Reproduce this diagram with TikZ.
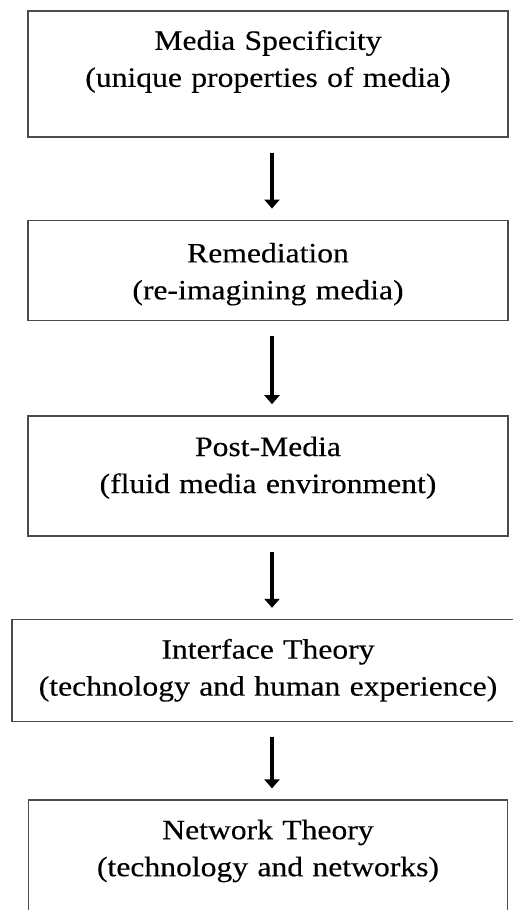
\documentclass[tikz,border=0pt]{standalone}
\usepackage{fontspec}
\setmainfont{Liberation Serif}[FakeStretch=1.13,FakeBold=0.3]
\usepackage{tikz}
\usetikzlibrary{arrows.meta,positioning,calc}
\tikzstyle{stage}=[draw=black!70,line width=1.6pt,rectangle,inner sep=0pt,align=center,text width=480pt,font=\fontsize{28}{37}\selectfont]
\tikzstyle{flow}=[line width=4.5pt,-{Triangle[width=15pt,length=9pt]},shorten <=15pt,shorten >=11pt]

\begin{document}
\begin{tikzpicture}[x=1pt,y=-1pt,node distance=82pt]
    \clip (0,0) rectangle (513,910);
    \node [stage,anchor=north,text height=39pt,text depth=87pt] (spec) at (268,10)
      {Media Specificity\\(unique properties of media)};
    \node [stage,below=of spec,text height=42pt,text depth=58pt] (remed)
      {Remediation\\(re-imagining media)};
    \node [stage,below=94pt of remed,text height=40pt,text depth=80pt] (post)
      {Post-Media\\(fluid media environment)};
    \node [stage,below=of post,text width=512pt,text height=39pt,text depth=63pt] (iface)
      {Interface Theory\\(technology and human experience)};
    \node [stage,below=77pt of iface,text width=479pt,text height=39pt,text depth=101pt] (net)
      {Network Theory\\(technology and networks)};
    % arrows between the stages
    \draw [flow] ([xshift=4pt]spec.south) -- ([xshift=4pt]remed.north);
    \draw [flow] ([xshift=4pt]remed.south) -- ([xshift=4pt]post.north);
    \draw [flow] ([xshift=4pt]post.south) -- ([xshift=4pt]iface.north);
    \draw [flow] ([xshift=4pt]iface.south) -- ([xshift=4pt]net.north);
\end{tikzpicture}
\end{document}
